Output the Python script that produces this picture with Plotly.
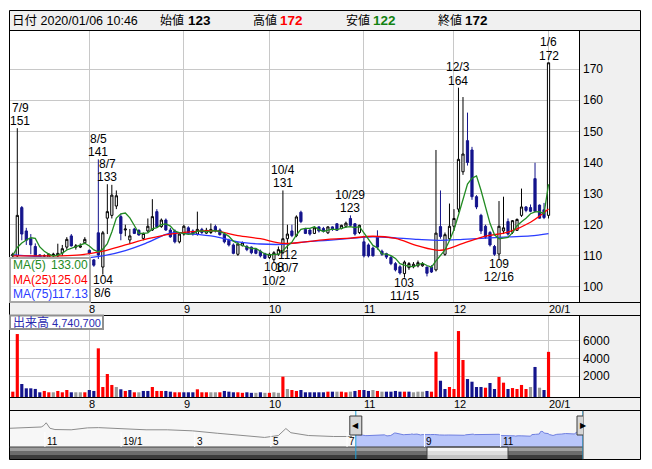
import plotly.graph_objects as go
import pandas as pd

W, H = 652, 469
def px(x): return x / W
def py(y): return 1 - y / H

# ---------------- data ----------------
FIRST_DAY = "2019-07-08"
LAST_DAY = "2020-01-06"
QUOTE_TIME = "10:46"
JP_HOLIDAYS = ["2019-07-15", "2019-08-12", "2019-09-16", "2019-09-23", "2019-10-14",
               "2019-10-22", "2019-11-04", "2019-12-31", "2020-01-01", "2020-01-02", "2020-01-03"]

OPEN = [110.0, 110.0, 125.5, 118.0, 115.5, 113.0, 110.3, 110.0, 109.6, 110.2, 110.0, 110.9, 112.8, 116.4, 112.8, 112.8, 114.2,
        111.8, 108.7, 117.4, 106.4, 122.1, 123.0, 126.0, 122.6, 118.3, 115.1, 118.6, 118.2, 115.6, 118.0, 118.3, 124.2, 119.4, 121.5, 118.3, 118.0, 114.5,
        117.0, 119.0, 118.0, 117.0, 118.5, 117.3, 117.5, 119.4, 118.3, 117.0, 115.0, 113.5, 110.5, 113.3, 113.0, 112.8, 112.0, 111.5, 110.7,
        109.5, 108.8, 110.5, 111.0, 115.5, 118.0, 116.5, 124.0, 118.5, 118.3, 117.2, 119.3, 118.8, 117.4, 119.3, 120.3, 118.8, 119.5, 122.0, 120.3, 117.5,
        114.5, 113.5, 112.5, 116.0, 111.5, 110.7, 109.5, 107.5, 106.5, 104.3, 106.2, 106.5, 106.8, 106.8, 106.4, 106.4, 105.5, 119.4, 110.5, 115.5,
        119.5, 125.0, 137.0, 147.0, 144.0, 129.0, 123.0, 119.5, 117.5, 113.0, 110.6, 118.0, 121.0, 117.6, 118.2, 123.0, 125.7, 125.5, 134.8, 126.3, 124.8,
        123.0]
HIGH = [111.0, 151.0, 126.0, 119.0, 117.0, 114.0, 110.5, 110.5, 110.8, 111.0, 113.9, 113.5, 116.0, 117.0, 113.8, 114.0, 116.0,
        112.0, 109.0, 141.0, 118.0, 133.0, 132.8, 131.0, 123.5, 120.0, 118.6, 119.0, 118.5, 117.5, 122.0, 128.2, 125.0, 122.0, 122.0, 119.0, 118.5, 117.5,
        120.0, 119.5, 118.5, 124.2, 119.0, 119.0, 120.4, 120.0, 118.8, 117.5, 115.5, 114.0, 114.5, 114.6, 113.5, 113.0, 112.5, 112.0, 111.0,
        111.0, 111.5, 113.0, 131.0, 120.0, 120.0, 123.0, 124.5, 119.0, 118.5, 119.5, 119.5, 119.3, 119.5, 119.5, 120.5, 120.0, 121.0, 123.0, 120.5, 120.0,
        116.0, 114.0, 113.0, 118.2, 112.0, 111.0, 110.0, 108.0, 107.0, 108.5, 108.0, 108.0, 108.5, 108.0, 106.5, 107.0, 144.0, 131.0, 117.5, 126.8,
        125.0, 164.0, 161.0, 156.0, 145.0, 129.5, 123.5, 120.0, 118.0, 113.5, 127.6, 129.0, 122.0, 121.5, 122.0, 131.6, 126.0, 126.5, 139.9, 126.5, 127.0,
        172.0]
LOW = [109.5, 109.5, 115.0, 113.5, 110.5, 108.5, 109.0, 109.5, 109.3, 109.5, 109.6, 110.0, 112.0, 113.0, 112.0, 112.5, 113.8,
       110.5, 106.5, 109.0, 104.0, 117.0, 122.0, 125.0, 115.0, 116.3, 113.8, 117.0, 116.5, 115.0, 117.5, 118.0, 119.0, 119.0, 118.0, 115.8, 114.0, 114.0,
       116.5, 117.0, 116.5, 116.5, 117.0, 117.0, 117.0, 117.5, 116.5, 114.0, 113.0, 110.5, 110.0, 113.0, 111.5, 110.5, 110.5, 109.5, 109.0,
       109.0, 108.0, 110.0, 110.5, 112.0, 116.0, 116.0, 120.5, 117.0, 116.5, 117.0, 117.5, 117.5, 117.0, 118.0, 118.0, 118.5, 119.0, 119.5, 116.5, 117.0,
       109.5, 109.5, 109.8, 112.0, 110.0, 109.0, 107.0, 105.0, 104.0, 103.0, 105.5, 106.0, 106.3, 106.5, 103.4, 104.5, 105.0, 115.5, 110.0, 115.0,
       118.0, 124.0, 136.0, 139.0, 128.0, 125.0, 117.0, 115.5, 113.0, 110.0, 109.0, 117.0, 116.5, 117.0, 118.0, 122.5, 124.0, 124.0, 124.0, 122.0, 121.8,
       122.0]
CLOSE = [110.5, 123.0, 117.0, 115.0, 113.5, 109.5, 109.3, 110.0, 110.5, 110.5, 110.8, 112.3, 115.3, 113.2, 113.2, 113.2, 115.3,
         110.8, 107.0, 110.3, 117.4, 124.2, 129.5, 129.3, 117.2, 118.6, 116.4, 117.2, 116.7, 117.2, 119.5, 122.6, 119.3, 121.5, 118.3, 116.1, 114.5, 117.0,
         119.5, 117.5, 117.0, 118.5, 117.5, 118.2, 118.5, 118.0, 116.8, 114.5, 113.5, 110.8, 113.8, 114.2, 112.0, 111.0, 110.8, 110.0, 109.2,
         110.5, 111.0, 112.0, 115.5, 117.0, 116.5, 122.5, 121.0, 117.2, 117.0, 119.0, 118.0, 118.0, 119.3, 118.5, 118.2, 119.8, 120.5, 119.8, 117.0, 119.8,
         110.0, 110.0, 110.0, 112.8, 110.5, 109.6, 107.5, 105.5, 104.5, 108.0, 107.5, 107.3, 107.8, 107.5, 104.4, 104.8, 117.3, 116.2, 116.8, 119.5,
         122.0, 141.0, 142.7, 140.0, 129.0, 125.7, 118.0, 116.0, 113.5, 110.5, 119.5, 119.0, 117.0, 121.3, 121.7, 125.7, 124.6, 124.3, 124.3, 122.1, 122.3,
         172.0]
PRE_CLOSE = [110.0, 110.0, 110.0, 110.0]   # closes just before the window (level of MA(5) at the left edge)

# volume, thousand shares; direction vs previous close: u=up, d=down, s=same
VOLUME = [230, 6760, 1100, 610, 610, 540, 160, 310, 160, 160, 310, 160, 420, 160, 160, 160, 160,
          420, 310, 5140, 760, 2230, 990, 760, 500, 310, 420, 160, 160, 310, 310, 760, 310, 310, 310, 230, 160, 160,
          160, 160, 160, 500, 160, 160, 160, 160, 160, 310, 230, 160, 160, 100, 160, 100, 100, 160, 100,
          100, 160, 100, 1930, 530, 420, 310, 420, 160, 160, 160, 160, 160, 230, 230, 230, 230, 160, 230, 310, 420,
          420, 310, 420, 310, 230, 230, 230, 310, 230, 230, 230, 160, 230, 230, 310, 230, 4760, 1470, 530, 760,
          530, 7100, 3820, 1660, 1360, 760, 760, 680, 1210, 530, 1890, 1250, 530, 640, 530, 990, 530, 760, 3030, 680, 420,
          4740.7]
VOL_DIR_BY_MONTH = ["uuddddduusuuudssu",        # Jul
                    "dduuuusdudusdduuuddu" "u",  # Aug
                    "ddduuuss" "udddu" "uddsds",  # Sep
                    "ussusuuddddddudsuusdu",     # Oct
                    "ddsusddddudsssduuddu",      # Nov
                    "uuudddduddu" "uduuuusdsd",  # Dec
                    "u"]                         # Jan
VOL_DIR = "".join(VOL_DIR_BY_MONTH)

MA_SAMPLE_DAY = [0, 5, 10, 15, 20, 25, 30, 35, 40, 45, 50, 55, 60, 65, 70, 75, 80, 85, 90, 95, 100, 105, 110, 115, 119]
MA25 = [110.0, 110.0, 110.0, 110.3, 111.5, 113.5, 115.5, 117.0, 117.8, 118.0, 116.5, 115.5, 114.0, 114.5, 115.3, 115.7,
        116.3, 115.6, 113.2, 111.8, 114.0, 116.3, 117.6, 120.8, 125.04]
MA75 = [110.3, 109.8, 109.3, 109.2, 110.0, 111.7, 114.3, 117.3, 117.0, 116.2, 114.5, 113.8, 113.7, 114.5, 115.0, 115.6,
        116.1, 115.8, 115.3, 115.0, 115.3, 115.7, 116.1, 116.4, 117.13]

HIGH_MARKS = ["2019-07-09", "2019-08-05", "2019-08-07", "2019-10-04", "2019-10-29", "2019-12-03", "2020-01-06"]
LOW_MARKS = ["2019-08-06", "2019-10-02", "2019-10-07", "2019-11-15", "2019-12-16"]

PRICE_TICKS = [100, 110, 120, 130, 140, 150, 160, 170]
VOL_TICKS = [2000, 4000, 6000]

# navigator (long history, relative level)
NAV_DATES = ["2018-10-04", "2018-10-16", "2018-10-29", "2018-10-31", "2018-11-02", "2018-11-05", "2018-11-09",
             "2018-11-22", "2018-12-05", "2018-12-14", "2019-01-04", "2019-01-21", "2019-02-07", "2019-02-27",
             "2019-03-19", "2019-04-01", "2019-04-15", "2019-04-26", "2019-05-07", "2019-05-13", "2019-05-17",
             "2019-05-31", "2019-06-20", "2019-07-05"]
NAV_VALS = [167, 174, 177, 188, 210, 167, 157, 155, 170, 172, 160, 155, 155, 147,
            128, 115, 102.5, 95, 110, 165, 132, 110, 102.5, 102.5]
NAV_TICKS = ["2018-11-01", "2019-01-01", "2019-03-01", "2019-05-01", "2019-07-01", "2019-09-01", "2019-11-01"]
NAV_TICKTEXT = ["11", "19/1", "3", "5", "7", "9", "11"]
NAV_START = "2018-10-04"

# ---------------- derived ----------------
dates = pd.bdate_range(FIRST_DAY, LAST_DAY, freq="C", holidays=JP_HOLIDAYS)
n = len(dates)
assert n == len(CLOSE) == len(VOLUME) == len(VOL_DIR), (n, len(CLOSE), len(VOLUME), len(VOL_DIR))
xi = list(range(n))
pos = {d.strftime("%Y-%m-%d"): i for i, d in enumerate(dates)}

ma5 = pd.Series(PRE_CLOSE + CLOSE).rolling(5).mean().iloc[len(PRE_CLOSE):].tolist()

month_idx, month_txt = [], []
for i, d in enumerate(dates):
    if i > 0 and d.month != dates[i - 1].month:
        month_idx.append(i)
        month_txt.append(f"{d.year % 100}/1" if d.month == 1 else str(d.month))

NAVY = "#14148c"
GREEN = "#228b22"
RED = "#ff0000"
BLUE = "#2a3cff"
GRID = "#c8c8c8"
PANEL = "#f0f0f0"
VCOL = {"u": "#ff0000", "d": "#14148c", "s": "#9a9a9a"}
NUMFONT = "Liberation Sans, Arial, sans-serif"
JPFONT = "Liberation Sans, Noto Sans CJK JP, sans-serif"

VOL_FLOOR = -374
VOL_TOP = 8918

fig = go.Figure()

fig.add_trace(go.Candlestick(
    x=xi, open=OPEN, high=HIGH, low=LOW, close=CLOSE,
    increasing=dict(line=dict(color="#000000", width=1), fillcolor="#ffffff"),
    decreasing=dict(line=dict(color=NAVY, width=1), fillcolor=NAVY),
    whiskerwidth=0, hoverinfo="skip", showlegend=False, xaxis="x", yaxis="y"))

fig.add_trace(go.Scatter(x=MA_SAMPLE_DAY, y=MA75, mode="lines", line=dict(color=BLUE, width=1.3, shape="spline"),
                         hoverinfo="skip", showlegend=False, xaxis="x", yaxis="y"))
fig.add_trace(go.Scatter(x=MA_SAMPLE_DAY, y=MA25, mode="lines", line=dict(color=RED, width=1.3, shape="spline"),
                         hoverinfo="skip", showlegend=False, xaxis="x", yaxis="y"))
fig.add_trace(go.Scatter(x=xi, y=ma5, mode="lines", line=dict(color=GREEN, width=1.3),
                         hoverinfo="skip", showlegend=False, xaxis="x", yaxis="y"))

fig.add_trace(go.Bar(x=xi, y=[v - VOL_FLOOR for v in VOLUME], base=VOL_FLOOR, width=0.7,
                     marker=dict(color=[VCOL[c] for c in VOL_DIR], line=dict(width=0)),
                     hoverinfo="skip", showlegend=False, xaxis="x2", yaxis="y2"))

# navigator
fig.add_trace(go.Scatter(x=NAV_DATES, y=NAV_VALS, mode="lines", line=dict(color="#8c8c8c", width=1),
                         hoverinfo="skip", showlegend=False, xaxis="x3", yaxis="y3"))
fig.add_trace(go.Scatter(x=dates, y=CLOSE, mode="lines", line=dict(color="#6f7fe0", width=1),
                         fill="tozeroy", fillcolor="#b9c6fa",
                         hoverinfo="skip", showlegend=False, xaxis="x3", yaxis="y3"))

# ---------------- shapes ----------------
shapes = []
def rect(x0, y0, x1, y1, fill="rgba(0,0,0,0)", line=None, lw=1, layer="below"):
    shapes.append(dict(type="rect", xref="paper", yref="paper", x0=px(x0), x1=px(x1), y0=py(y1), y1=py(y0),
                       fillcolor=fill, line=dict(color=line or "rgba(0,0,0,0)", width=lw if line else 0), layer=layer))
def hline(y, x0, x1, color="black", lw=1):
    shapes.append(dict(type="line", xref="paper", yref="paper", x0=px(x0), x1=px(x1), y0=py(y), y1=py(y),
                       line=dict(color=color, width=lw), layer="above"))
def vline(x, y0, y1, color="black", lw=1):
    shapes.append(dict(type="line", xref="paper", yref="paper", x0=px(x), x1=px(x), y0=py(y0), y1=py(y1),
                       line=dict(color=color, width=lw), layer="above"))

L, R = 9.5, 640.5
rect(L, 10.5, R, 30.5, PANEL)
rect(579.5, 30.5, R, 302.5, PANEL)
rect(L, 302.5, R, 315.5, PANEL)
rect(579.5, 315.5, R, 397.5, PANEL)
rect(L, 397.5, R, 410.5, PANEL)
rect(L, 410.5, 583, 447, "#f7f7f7")
rect(583, 410.5, R, 459.5, PANEL)

# scrollbar
for (y0, y1, c) in [(447, 451, "#9c9c9c"), (451, 455, "#6c6c6c"), (455, 459.5, "#3c3c3c")]:
    rect(L, y0, 427, y1, c, layer="above")
    rect(508, y0, 583, y1, c, layer="above")
for (y0, y1, c) in [(447, 451, "#f4f4f4"), (451, 455, "#dedede"), (455, 459.5, "#c4c4c4")]:
    rect(427, y0, 508, y1, c, layer="above")
rect(427, 447, 508, 459.5, line="#404040", lw=1, layer="above")

# frame lines
rect(L, 10.5, R, 459.5, line="black", lw=1, layer="above")
for y in (30.5, 302.5, 315.5, 397.5, 410.5):
    hline(y, L, R)
hline(447, L, 583, "#404040")
vline(579.5, 30.5, 302.5)
vline(579.5, 315.5, 397.5)
vline(583, 410.5, 459.5, "#404040")

# legend boxes
rect(10, 258, 90, 302, "rgba(255,255,255,0.72)", "#a8a8a8", 2, layer="above")
rect(10, 315.5, 103, 329, "rgba(255,255,255,0.85)", "#909090", 2, layer="above")

# navigator month ticks, selection lines and handles
for t in NAV_TICKS:
    shapes.append(dict(type="line", xref="x3", yref="paper", x0=t, x1=t, y0=py(447), y1=py(432),
                       line=dict(color="white", width=1), layer="above"))
for d in (dates[0], dates[-1]):
    shapes.append(dict(type="line", xref="x3", yref="paper", x0=d, x1=d, y0=py(459), y1=py(411),
                       line=dict(color="#1ea0d8", width=1), layer="above"))
    shapes.append(dict(type="rect", xref="x3", yref="paper", xsizemode="pixel", xanchor=d, x0=-6, x1=6,
                       y0=py(435), y1=py(416), fillcolor="#d6d6d6", line=dict(color="#3c3c3c", width=1), layer="above"))

# ---------------- annotations ----------------
ann = []
def text(x, y, s, color="black", size=12, family=NUMFONT, xanchor="left", xref="paper", bold=False,
         xshift=0, yshift=0, yref="paper"):
    if bold:
        s = f"<b>{s}</b>"
    ann.append(dict(x=x, y=y, xref=xref, yref=yref, text=s, showarrow=False, xanchor=xanchor, yanchor="middle",
                    xshift=xshift, yshift=yshift, borderpad=0, font=dict(color=color, size=size, family=family)))

hy = py(20.5)
last = dates[-1]
text(px(11), hy, f"日付 {last:%Y/%m/%d} {QUOTE_TIME}", size=12.5, family=JPFONT)
text(px(159), hy, "始値", size=12, family=JPFONT)
text(px(187), hy, f"{OPEN[-1]:g}", size=13.5, family=JPFONT, bold=True)
text(px(252), hy, "高値", size=12, family=JPFONT)
text(px(279), hy, f"{HIGH[-1]:g}", color="#ff0000", size=13.5, family=JPFONT, bold=True)
text(px(345), hy, "安値", size=12, family=JPFONT)
text(px(372), hy, f"{LOW[-1]:g}", color="#128212", size=13.5, family=JPFONT, bold=True)
text(px(437), hy, "終値", size=12, family=JPFONT)
text(px(464), hy, f"{CLOSE[-1]:g}", size=13.5, family=JPFONT, bold=True)

for i, t in zip(month_idx, month_txt):
    text(i, py(308.5), t, size=11, xref="x", xshift=-1)
    text(i, py(403.5), t, size=11, xref="x", xshift=-1)

for ds in HIGH_MARKS:
    k = pos[ds]; d = dates[k]
    xs = 3 if k == 1 else 0
    text(k, HIGH[k], f"{HIGH[k]:g}", size=12, xanchor="center", xref="x", yref="y", yshift=7, xshift=xs)
    text(k, HIGH[k], f"{d.month}/{d.day}", size=12, xanchor="center", xref="x", yref="y", yshift=20.5, xshift=xs)
for ds in LOW_MARKS:
    k = pos[ds]; d = dates[k]
    text(k, LOW[k], f"{LOW[k]:g}", size=12, xanchor="center", xref="x", yref="y", yshift=-5)
    text(k, LOW[k], f"{d.month}/{d.day}", size=12, xanchor="center", xref="x", yref="y", yshift=-18.5)

# MA legend
for (yy, lab, val, col) in [(265, "MA(5)", ma5[-1], GREEN), (280, "MA(25)", MA25[-1], RED), (294, "MA(75)", MA75[-1], BLUE)]:
    text(px(11.5), py(yy), lab, color=col, size=12)
    text(px(89), py(yy), f"{val:.2f}", color=col, size=12, xanchor="right")

# volume label
text(px(11.5), py(322.5), "出来高", color="#2a2ab0", size=12, family=JPFONT)
text(px(101.5), py(322.5), f"{int(round(VOLUME[-1] * 1000)):,}", color="#2a2ab0", size=11, xanchor="right")

# navigator labels and handle arrows
for t, s in zip(NAV_TICKS, NAV_TICKTEXT):
    text(t, py(441), s, size=10, xref="x3", xshift=1)
text(dates[0], py(425.5), "◀", size=8, xanchor="center", xref="x3", family="DejaVu Sans")
text(dates[-1], py(425.5), "▶", size=8, xanchor="center", xref="x3", family="DejaVu Sans")

fig.update_layout(
    width=W, height=H, margin=dict(l=0, r=0, t=0, b=0),
    paper_bgcolor="white", plot_bgcolor="white", showlegend=False, boxgap=0.3,
    font=dict(family=NUMFONT, size=12, color="black"),
    shapes=shapes, annotations=ann,
    xaxis=dict(domain=[px(10), px(579)], range=[-0.62, 125.77], tickvals=month_idx, showticklabels=False,
               showgrid=True, gridcolor=GRID, gridwidth=1, zeroline=False, showline=False,
               rangeslider=dict(visible=False), anchor="y"),
    yaxis=dict(domain=[py(302), py(30)], range=[95.18, 182.53], side="right", tickvals=PRICE_TICKS,
               showgrid=True, gridcolor=GRID, gridwidth=1, zeroline=False, ticks="", ticklabelstandoff=3,
               tickfont=dict(size=12, family=NUMFONT), anchor="x"),
    xaxis2=dict(domain=[px(10), px(579)], range=[-0.62, 125.77], tickvals=month_idx, showticklabels=False,
                showgrid=True, gridcolor=GRID, gridwidth=1, zeroline=False, anchor="y2"),
    yaxis2=dict(domain=[py(397), py(315)], range=[VOL_FLOOR, VOL_TOP], side="right", tickvals=VOL_TICKS,
                ticktext=[str(v) for v in VOL_TICKS], showgrid=True, gridcolor=GRID, gridwidth=1,
                zeroline=False, ticks="", ticklabelstandoff=3, tickfont=dict(size=12, family=NUMFONT), anchor="x2"),
    xaxis3=dict(domain=[px(10), px(583)], anchor="y3", type="date", range=[NAV_START, LAST_DAY], visible=False),
    yaxis3=dict(domain=[py(447), py(411)], anchor="x3", range=[20, 302.5], visible=False),
)

fig.write_html("out.html", config={"displayModeBar": False},
               post_script="document.body.style.margin='0';document.body.style.overflow='hidden';")
